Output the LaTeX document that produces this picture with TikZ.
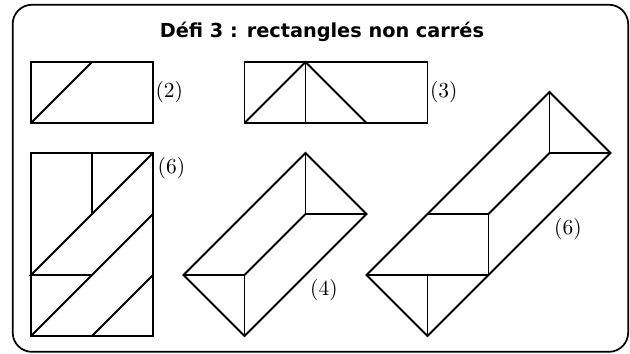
\documentclass[tikz,border=0pt]{standalone}
\usepackage{fontspec}
\newfontfamily\titlefont{DejaVu Sans}
\usepackage{tikz}
\usetikzlibrary{positioning}

\begin{document}
\begin{tikzpicture}[
    piece/.style={draw=black, line width=0.9pt, line join=miter},
    cut/.style={draw=black, line width=0.9pt},
    count/.style={font=\normalsize, inner sep=1pt},
    frame/.style={draw=black, line width=0.8pt, rounded corners=9pt}
]
\useasboundingbox (-0.508,-0.295) rectangle (9.82,5.508);

% Frame and title
\draw[frame] (-0.30,-0.26) rectangle (9.79,5.43);
\node[font=\titlefont\bfseries\fontsize{9}{11}\selectfont] (title) at (4.77,4.98) {Défi 3 : rectangles non carrés};

% 2 x 1 rectangle
\begin{scope}[shift={(0,3.49)}]
\draw[piece] (0,0) rectangle (2,1);
\draw[cut] (0,0) -- (1,1);
\coordinate (edgetwo) at (2,0.5);
\end{scope}
\node[count, right=0pt of edgetwo] (counttwo) {(2)};

% 3 x 1 rectangle
\begin{scope}[shift={(3.5,3.49)}]
\draw[piece] (0,0) rectangle (3,1);
\draw[cut] (0,0) -- (1,1) -- (2,0);
\draw[cut] (1,1) -- (1,0);
\coordinate (edgethree) at (3,0.5);
\end{scope}
\node[count, right=0pt of edgethree] (countthree) {(3)};

% 2 x 3 rectangle
\begin{scope}
\draw[piece] (0,0) rectangle (2,3);
\draw[cut] (1,3) -- (1,2);
\draw[cut] (2,3) -- (0,1) -- (1,1);
\draw[cut] (0,0) -- (2,2);
\draw[cut] (1,0) -- (2,1);
\coordinate (cornersix) at (2,3);
\end{scope}
\node[count, inner sep=2pt, below right=0pt of cornersix] (countsix) {(6)};

% tilted rectangle, 4 pieces
\begin{scope}[shift={(2.5,0)}]
\draw[piece] (0,1) -- (2,3) -- (3,2) -- (1,0) -- cycle;
\draw[cut] (2,3) -- (2,2) -- (3,2);
\draw[cut] (0,1) -- (1,1) -- (1,0);
\draw[cut] (1,1) -- (2,2);
\coordinate (cornerfour) at (2,1);
\end{scope}
\node[count, inner sep=2pt, below right=0pt of cornerfour] (countfour) {(4)};

% long tilted rectangle, 6 pieces
\begin{scope}[shift={(5.5,0)}]
\draw[piece] (0,1) -- (3,4) -- (4,3) -- (1,0) -- cycle;
\draw[cut] (3,4) -- (3,3) -- (4,3);
\draw[cut] (3,3) -- (2,2);
\draw[cut] (1,2) -- (2,2) -- (2,1);
\draw[cut] (0,1) -- (2,1);
\draw[cut] (1,1) -- (1,0);
\coordinate (cornerlong) at (3,2);
\end{scope}
\node[count, inner sep=2pt, below right=0pt of cornerlong] (countlong) {(6)};

\end{tikzpicture}
\end{document}
